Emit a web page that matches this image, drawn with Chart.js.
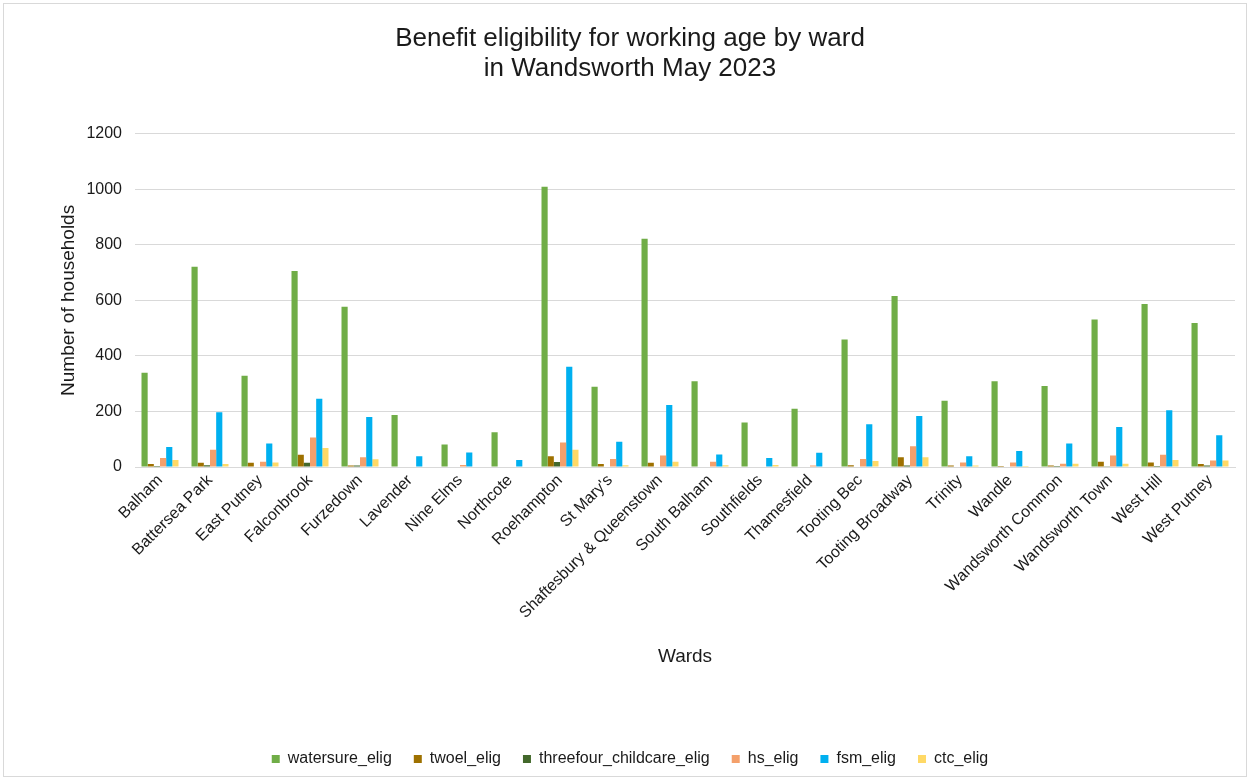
<!DOCTYPE html>
<html>
<head>
<meta charset="utf-8">
<script src="https://cdn.jsdelivr.net/npm/chart.js@4/dist/chart.umd.min.js"></script>
<style>
  html, body { margin:0; padding:0; background:#fff; overflow:hidden; }
  #chart { position:absolute; left:0; top:0; }
  #frame { position:absolute; left:3px; top:3px; width:1244px; height:774px; border:1px solid #d9d9d9; box-sizing:border-box; pointer-events:none; }
</style>
</head>
<body>
<canvas id="chart" width="1250" height="790"></canvas>
<div id="frame"></div>
<script>
// Wards and values (households)
const wards = ['Balham','Battersea Park','East Putney','Falconbrook','Furzedown','Lavender','Nine Elms','Northcote',
  'Roehampton',"St Mary's",'Shaftesbury & Queenstown','South Balham','Southfields','Thamesfield','Tooting Bec',
  'Tooting Broadway','Trinity','Wandle','Wandsworth Common','Wandsworth Town','West Hill','West Putney'];

const watersure = [339, 721, 329, 706, 577, 187, 81, 125, 1009, 289, 822, 309, 160, 210, 459, 616, 239, 309, 292, 531, 587, 519];
const twoel     = [11, 15, 15, 44, 5, 0, 0, 0, 39, 11, 15, 0, 0, 0, 6, 35, 5, 4, 5, 19, 16, 11];
const threefour = [4, 6, 2, 15, 5, 0, 0, 0, 18, 0, 2, 0, 0, 0, 0, 5, 0, 0, 4, 3, 4, 5];
const hs        = [32, 62, 19, 106, 35, 0, 7, 0, 88, 29, 41, 19, 0, 5, 29, 75, 16, 16, 12, 41, 44, 23];
const fsm       = [72, 197, 85, 246, 180, 39, 52, 25, 361, 91, 223, 45, 32, 51, 154, 184, 39, 58, 85, 144, 204, 114];
const ctc       = [25, 11, 16, 68, 28, 0, 0, 0, 62, 6, 19, 6, 7, 0, 22, 35, 5, 4, 12, 12, 25, 23];

const yTicks = [0, 200, 400, 600, 800, 1000, 1200];

const series = [
  { label: 'watersure_elig', data: watersure, color: '#70ad47' },
  { label: 'twoel_elig', data: twoel, color: '#9e7100' },
  { label: 'threefour_childcare_elig', data: threefour, color: '#43682b' },
  { label: 'hs_elig', data: hs, color: '#f4a06b' },
  { label: 'fsm_elig', data: fsm, color: '#00b0f0' },
  { label: 'ctc_elig', data: ctc, color: '#ffd966' },
];

const font = 'Liberation Sans, Arial, sans-serif';
const textColor = '#1a1a1a';

new Chart(document.getElementById('chart'), {
  type: 'bar',
  data: {
    labels: wards,
    datasets: series.map(s => ({
      label: s.label, data: s.data, backgroundColor: s.color, borderWidth: 0,
      categoryPercentage: 0.74, barPercentage: 1.0
    }))
  },
  options: {
    responsive: false,
    animation: false,
    layout: { padding: { left: 25, right: 15, top: 0, bottom: 13 } },
    plugins: {
      title: {
        display: true,
        text: ['Benefit eligibility for working age by ward', 'in Wandsworth May 2023'],
        color: textColor, font: { family: font, size: 26, weight: 'normal', lineHeight: 1.15 },
        padding: { top: 24, bottom: 50 }
      },
      legend: {
        position: 'bottom',
        labels: { color: textColor, font: { family: font, size: 16 }, boxWidth: 8, boxHeight: 8, padding: 22 }
      },
      tooltip: { enabled: false }
    },
    scales: {
      x: {
        afterFit: axis => { axis.height = 262; },
        grid: { display: false },
        border: { color: '#d9d9d9' },
        ticks: { color: textColor, font: { family: font, size: 16 }, minRotation: 45, maxRotation: 45, autoSkip: false, padding: -4 },
        title: { display: true, text: 'Wards', color: textColor, font: { family: font, size: 19 }, padding: { top: 61, bottom: 61 } }
      },
      y: {
        min: 0, max: 1200,
        afterFit: axis => { axis.width = 110; },
        afterBuildTicks: axis => { axis.ticks = yTicks.map(v => ({ value: v })); },
        grid: { color: '#d9d9d9', lineWidth: 1, drawTicks: false },
        border: { display: false },
        ticks: { color: textColor, font: { family: font, size: 16 }, padding: 13, callback: v => String(v) },
        title: { display: true, text: 'Number of households', color: textColor, font: { family: font, size: 19 }, padding: { top: 32, bottom: 32 } }
      }
    }
  }
});
</script>
</body>
</html>
